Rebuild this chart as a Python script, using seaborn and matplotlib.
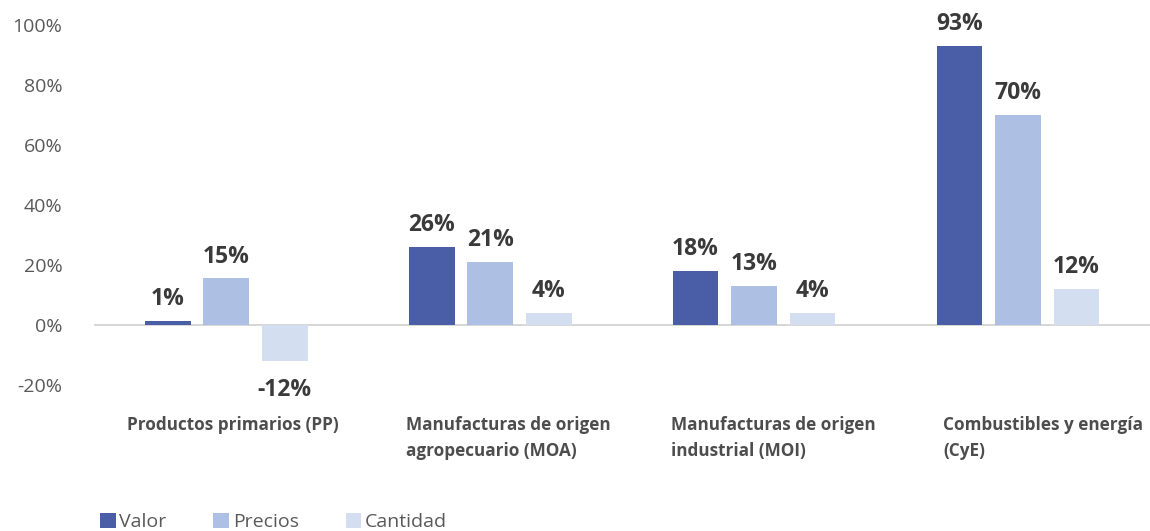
import numpy as np
import pandas as pd
import seaborn as sns
from matplotlib import pyplot as plt

# data
categories = ["Productos primarios (PP)",
              "Manufacturas de origen\nagropecuario (MOA)",
              "Manufacturas de origen\nindustrial (MOI)",
              "Combustibles y energía\n(CyE)"]
series = ["Valor", "Precios", "Cantidad"]
valor = [1.3, 26, 18, 93]
precios = [15.5, 21, 13, 70]
cantidad = [-12, 4, 4, 12]
labels_valor = ["1%", "26%", "18%", "93%"]
labels_precios = ["15%", "21%", "13%", "70%"]
labels_cantidad = ["-12%", "4%", "4%", "12%"]

colors = ["#4a5ea8", "#adc0e3", "#d3dff1"]

df = pd.DataFrame({
    "Rubro": categories * 3,
    "Serie": [s for s in series for _ in categories],
    "Valor": valor + precios + cantidad,
})

sns.set_style("white")
plt.rcParams['font.family'] = ['Open Sans', 'DejaVu Sans']

fig = plt.figure(figsize=(11.5, 5.31), dpi=100)
ax = fig.add_axes([0.082, 0.275, 0.918, 0.678])

sns.barplot(data=df, x="Rubro", y="Valor", hue="Serie", hue_order=series,
            palette=colors, width=0.665, gap=0.22, saturation=1,
            linewidth=0, edgecolor="none", ax=ax, legend=True)

# value labels
all_labels = [labels_valor, labels_precios, labels_cantidad]
for cont, labs in zip(ax.containers, all_labels):
    for bar, lab in zip(cont, labs):
        h = bar.get_height()
        x = bar.get_x() + bar.get_width() / 2
        if h >= 0:
            ax.annotate(lab, (x, h), xytext=(0, 7), textcoords="offset points",
                        ha="center", va="bottom", fontsize=16.5, fontweight="bold",
                        color="#3a3a3a", clip_on=False)
        else:
            ax.annotate(lab, (x, h), xytext=(0, -12), textcoords="offset points",
                        ha="center", va="top", fontsize=16.5, fontweight="bold",
                        color="#3a3a3a", clip_on=False)

ax.set_ylim(-20, 100)
ax.set_xlim(-0.5, 3.5)
ax.set_yticks(np.arange(-20, 101, 20))
ax.set_yticklabels([f"{v}%" for v in range(-20, 101, 20)], fontsize=14, color="#595959")
ax.tick_params(axis="y", length=0, pad=23)
ax.axhline(0, color="#d0d0d0", lw=1.2, zorder=0)
sns.despine(ax=ax, left=True, bottom=True)

# category labels, left aligned under each group
ax.set_xticks([])
ax.set_xlabel("")
ax.set_ylabel("")
label_offsets = [-0.375, -0.318, -0.315, -0.284]
for i, (cat, off) in enumerate(zip(categories, label_offsets)):
    ax.text(i + off, -30.5, cat, ha="left", va="top", fontsize=12.3,
            fontweight="bold", color="#4d4d4d", linespacing=1.55)

leg = ax.legend(loc="lower left", bbox_to_anchor=(0.087, 0.0), bbox_transform=fig.transFigure,
                ncol=3, frameon=False, fontsize=14, handlelength=0.8, handleheight=0.8,
                handletextpad=0.2, columnspacing=2.4, borderaxespad=0, borderpad=0)
for t in leg.get_texts():
    t.set_color("#595959")

plt.savefig("out.png", dpi=100)
